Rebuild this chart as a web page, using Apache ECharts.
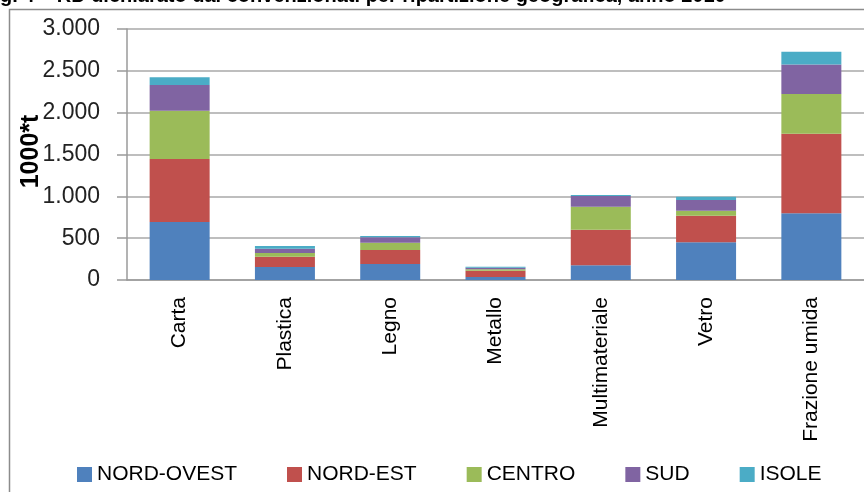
<!DOCTYPE html>
<html>
<head>
<meta charset="utf-8">
<script src="https://cdn.jsdelivr.net/npm/echarts@6/dist/echarts.min.js"></script>
<style>
  html, body { margin: 0; padding: 0; background: #fff; }
  #chart { width: 864px; height: 492px; }
</style>
</head>
<body>
<div id="chart"></div>
<script>
const categories = ['Carta', 'Plastica', 'Legno', 'Metallo', 'Multimateriale', 'Vetro', 'Frazione umida'];
const nordOvest = [693, 155, 191, 36, 176, 450, 797];
const nordEst = [753, 124, 167, 75, 425, 318, 951];
const centro = [577, 44, 88, 17, 275, 60, 474];
const sud = [307, 51, 64, 19, 128, 128, 355];
const isole = [92, 32, 16, 12, 12, 39, 151];
const seriesNames = ['NORD-OVEST', 'NORD-EST', 'CENTRO', 'SUD', 'ISOLE'];
const colors = ['#4f81bd', '#c0504d', '#9bbb59', '#8064a2', '#4bacc6'];
const titleText = 'g. 4 – RD dichiarato dai convenzionati per ripartizione geografica, anno 2010';

const font = '"Liberation Sans", Arial, sans-serif';
const fmt = (v) => String(v).replace(/\B(?=(\d{3})+(?!\d))/g, '.');

const chart = echarts.init(document.getElementById('chart'));
const values = [nordOvest, nordEst, centro, sud, isole];

chart.setOption({
  animation: false,
  color: colors,
  textStyle: { fontFamily: font },
  graphic: [
    {
      type: 'rect',
      shape: { x: 9.5, y: 9.5, width: 900, height: 520 },
      style: { fill: 'none', stroke: '#8c8c8c', lineWidth: 1.5 },
      silent: true
    },
    {
      type: 'text',
      left: 0,
      top: -14,
      style: { text: titleText, font: 'bold 20px ' + font, fill: '#000' },
      silent: true
    }
  ],
  legend: {
    data: seriesNames,
    left: 72,
    top: 459,
    icon: 'rect',
    itemWidth: 15,
    itemHeight: 15,
    itemGap: 50,
    textStyle: { fontSize: 21, color: '#000', fontFamily: font }
  },
  grid: { left: 127, top: 29, width: 739, height: 251, containLabel: false },
  xAxis: {
    type: 'category',
    data: categories,
    axisLine: { lineStyle: { color: '#9a9a9a', width: 1.5 } },
    axisTick: { show: false },
    axisLabel: { rotate: 90, margin: 17, fontSize: 21, color: '#000', fontFamily: font }
  },
  yAxis: {
    type: 'value',
    min: 0,
    max: 3000,
    interval: 500,
    name: '1000*t',
    nameLocation: 'middle',
    nameGap: 83,
    nameRotate: 90,
    nameMoveOverlap: false,
    nameTextStyle: { fontSize: 25, fontWeight: 'bold', color: '#000', fontFamily: font, padding: [0, 0, 0, 6] },
    axisLine: { show: true, lineStyle: { color: '#9a9a9a', width: 1.5 } },
    axisTick: { show: true, length: 10, lineStyle: { color: '#9a9a9a', width: 1.5 } },
    axisLabel: { margin: 27, fontSize: 23, color: '#222', fontFamily: font, formatter: fmt },
    splitLine: { lineStyle: { color: '#a8a8a8', width: 1.5 } }
  },
  series: seriesNames.map((name, i) => ({
    name: name,
    type: 'bar',
    stack: 'tot',
    barWidth: 60,
    data: values[i],
    itemStyle: { color: colors[i] }
  }))
});
</script>
</body>
</html>
